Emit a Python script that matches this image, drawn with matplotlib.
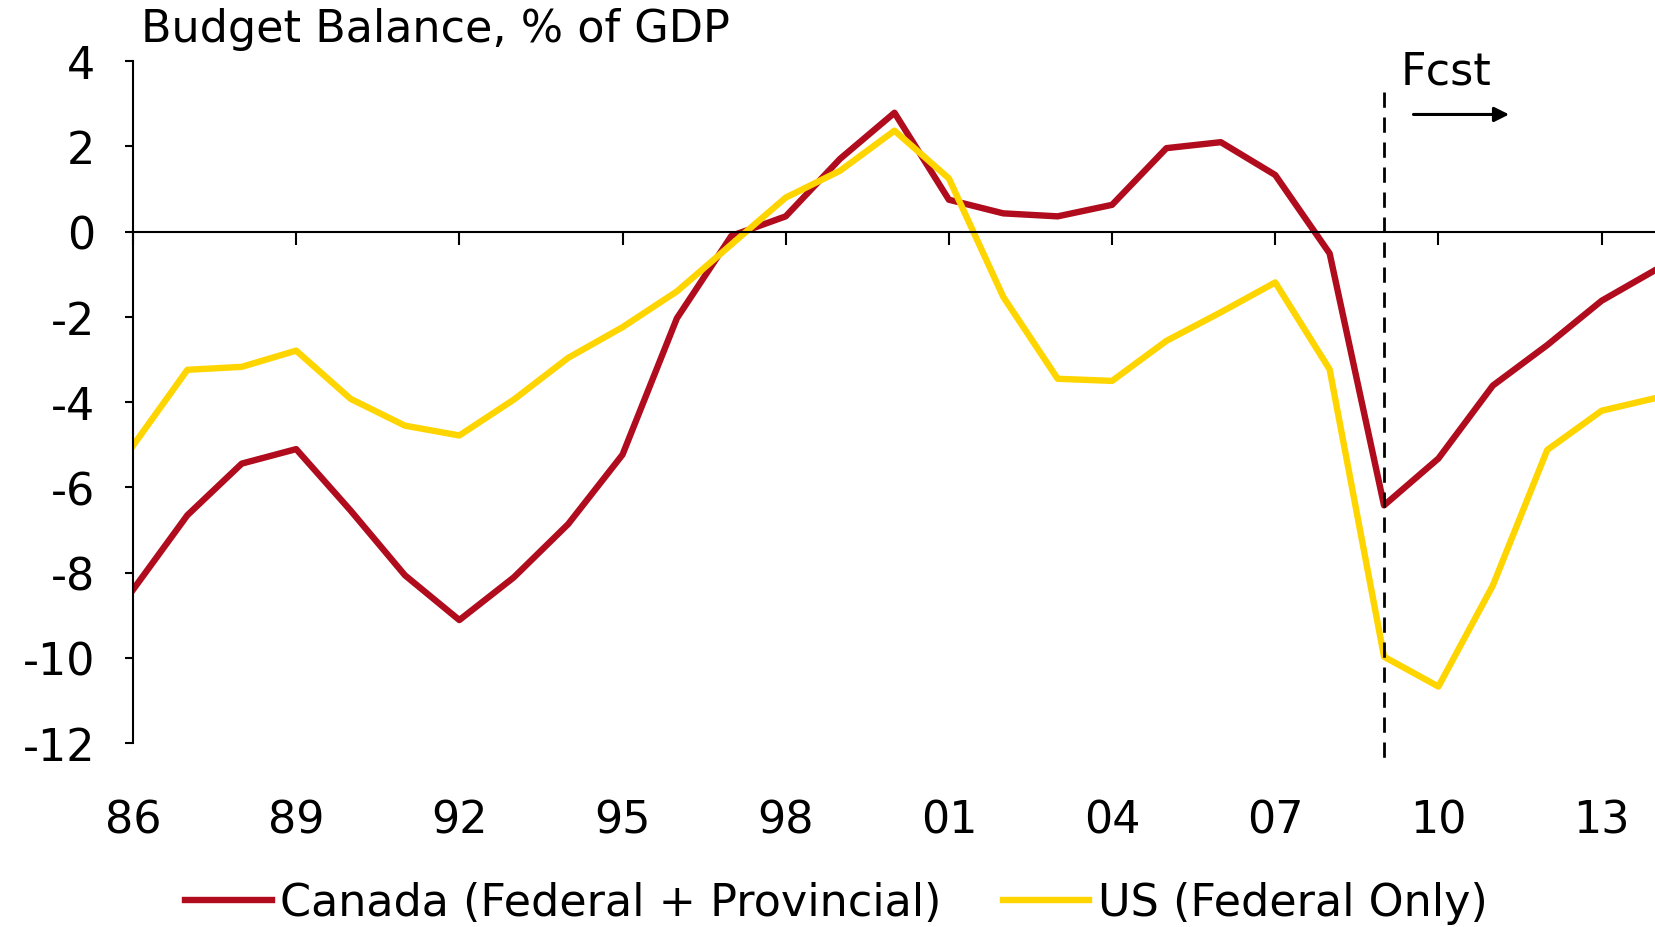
import matplotlib
matplotlib.use('Agg')
import matplotlib.pyplot as plt

plt.rcParams['font.family'] = ['DejaVu Sans']

# data (% of GDP)
years = list(range(1986, 2015))
canada = [-8.4, -6.65, -5.44, -5.1, -6.54, -8.06, -9.11, -8.11, -6.86, -5.23,
          -2.03, -0.1, 0.36, 1.71, 2.79, 0.75, 0.43, 0.36, 0.63, 1.96,
          2.1, 1.33, -0.51, -6.42, -5.32, -3.61, -2.66, -1.62, -0.89]
us = [-5.02, -3.24, -3.17, -2.79, -3.92, -4.55, -4.78, -3.94, -2.96, -2.24,
      -1.40, -0.3, 0.8, 1.43, 2.37, 1.25, -1.53, -3.45, -3.5, -2.56,
      -1.89, -1.19, -3.23, -9.97, -10.67, -8.3, -5.12, -4.2, -3.9]
xtick_years = list(range(1986, 2014, 3))
yticks = list(range(-12, 5, 2))
fcst_year = 2009

fs = 32
fig = plt.figure(figsize=(16.56, 9.28), dpi=100)
ax = fig.add_axes([0.0803, 0.198, 0.9197, 0.735])

ax.plot(years, canada, color='#B00C1E', lw=4.6, label='Canada (Federal + Provincial)')
ax.plot(years, us, color='#FFD500', lw=4.6, label='US (Federal Only)')

ax.set_xlim(1986, 2014)
ax.set_ylim(-12, 4)

for s in ['top', 'right']:
    ax.spines[s].set_visible(False)
ax.spines['bottom'].set_position(('data', 0))
ax.spines['bottom'].set_linewidth(1.5)
ax.spines['left'].set_linewidth(1.5)

ax.set_yticks(yticks)
ax.set_yticklabels([str(v) for v in yticks])
ax.tick_params(axis='y', direction='out', length=6, width=1.5, pad=21, labelsize=fs)

ax.set_xticks(xtick_years)
ax.tick_params(axis='x', direction='out', length=9, width=1.5, labelbottom=False)
for yr in xtick_years:
    ax.text(yr, -0.113, f"{yr % 100:02d}", transform=ax.get_xaxis_transform(),
            ha='center', va='center', fontsize=fs)

# forecast marker
ax.plot([fcst_year, fcst_year], [3.27, -12.4], color='k', lw=2,
        dashes=(5.5, 3.5), clip_on=False)
ax.text(fcst_year + 0.31, 3.78, 'Fcst', fontsize=fs, ha='left', va='center')
ax.annotate('', xy=(fcst_year + 2.35, 2.75), xytext=(fcst_year + 0.49, 2.75),
            arrowprops=dict(arrowstyle='-|>', color='k', lw=2.2, mutation_scale=22))

fig.text(0.085, 0.968, 'Budget Balance, % of GDP', fontsize=fs, ha='left', va='center')

fig.legend(loc='center', bbox_to_anchor=(0.505, 0.026), ncol=2, frameon=False,
           fontsize=fs, handlelength=1.95, handletextpad=0.19, columnspacing=1.37,
           borderpad=0)

fig.savefig('out.png', dpi=100)
